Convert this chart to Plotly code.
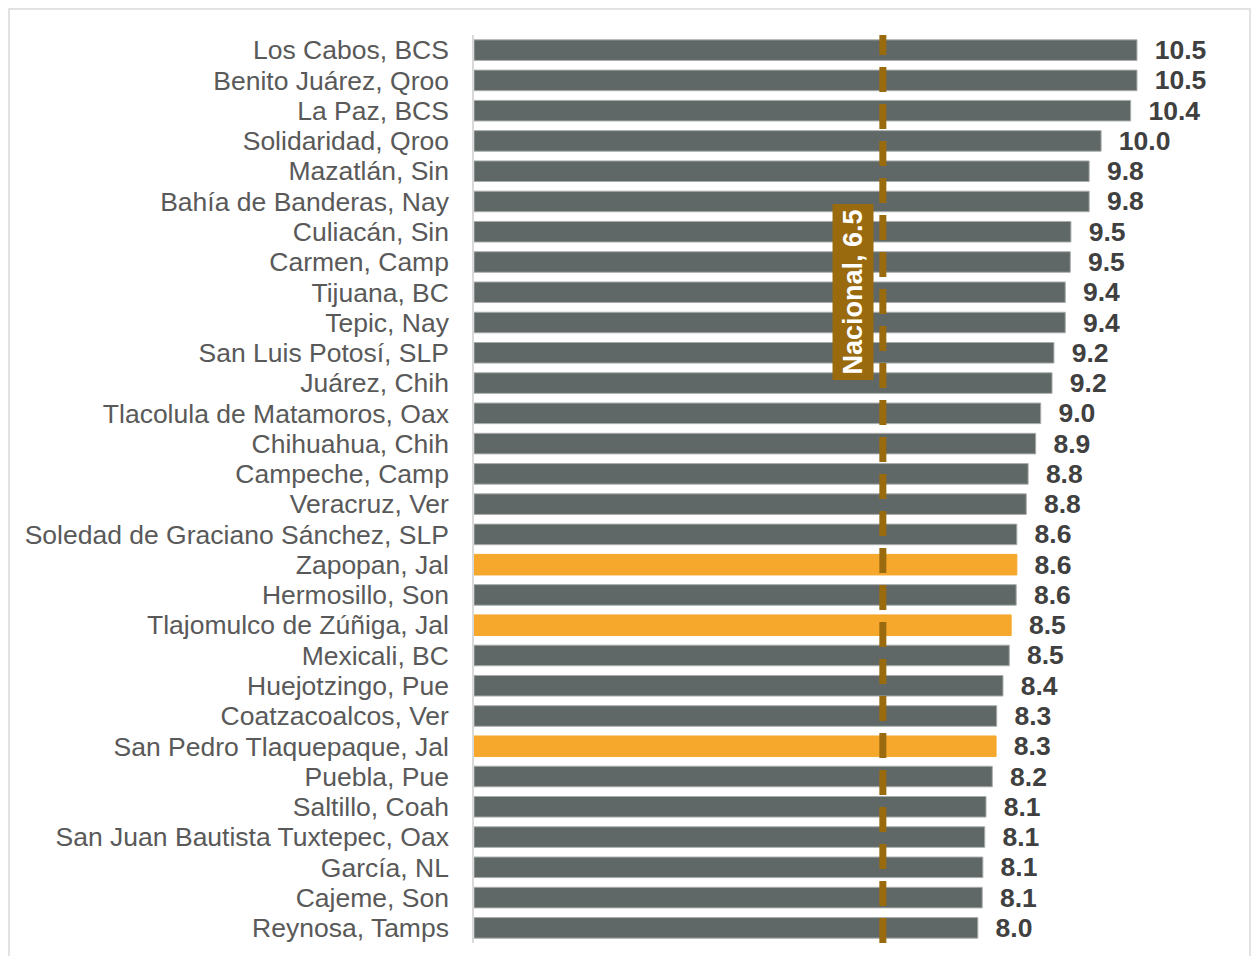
import plotly.graph_objects as go

# municipios, de arriba hacia abajo
municipios = [
    "Los Cabos, BCS", "Benito Juárez, Qroo", "La Paz, BCS", "Solidaridad, Qroo",
    "Mazatlán, Sin", "Bahía de Banderas, Nay", "Culiacán, Sin", "Carmen, Camp",
    "Tijuana, BC", "Tepic, Nay", "San Luis Potosí, SLP", "Juárez, Chih",
    "Tlacolula de Matamoros, Oax", "Chihuahua, Chih", "Campeche, Camp",
    "Veracruz, Ver", "Soledad de Graciano Sánchez, SLP", "Zapopan, Jal",
    "Hermosillo, Son", "Tlajomulco de Zúñiga, Jal", "Mexicali, BC",
    "Huejotzingo, Pue", "Coatzacoalcos, Ver", "San Pedro Tlaquepaque, Jal",
    "Puebla, Pue", "Saltillo, Coah", "San Juan Bautista Tuxtepec, Oax",
    "García, NL", "Cajeme, Son", "Reynosa, Tamps",
]
valores = [
    10.54, 10.54, 10.44, 9.97, 9.78, 9.78, 9.49, 9.48, 9.40, 9.40,
    9.22, 9.19, 9.01, 8.93, 8.81, 8.78, 8.63, 8.63, 8.62, 8.54,
    8.51, 8.41, 8.31, 8.30, 8.24, 8.14, 8.12, 8.09, 8.08, 8.01,
]
jalisco = ["Zapopan, Jal", "Tlajomulco de Zúñiga, Jal", "San Pedro Tlaquepaque, Jal"]
nacional = 6.5

gris = "#5f6866"
naranja = "#f5a82c"
cafe = "#9a6a0f"

colores = [naranja if m in jalisco else gris for m in municipios]
bordes = [naranja if m in jalisco else "#a9aeac" for m in municipios]

# la pagina tiene 8px de margen, asi que todo va recorrido
W, H = 1243, 948
L, R, T, B = 466, 11, 27, 13

fig = go.Figure()
fig.add_trace(go.Bar(
    x=valores,
    y=municipios,
    orientation="h",
    marker=dict(color=colores, line=dict(color=bordes, width=1)),
    width=0.68,
    texttemplate="\u00a0\u00a0%{x:.1f}",
    textposition="outside",
    constraintext="none",
    cliponaxis=False,
    outsidetextfont=dict(family="Liberation Sans, Arial", size=26.5, color="#404040", weight="bold"),
    hoverinfo="skip",
))

# linea nacional punteada
fig.add_shape(
    type="line", xref="x", yref="paper",
    x0=nacional, x1=nacional, y0=0, y1=1,
    line=dict(color=cafe, width=7, dash="25px,12px"),
)

fig.add_annotation(
    x=6.03, y="Tijuana, BC", xref="x", yref="y",
    text="<b>Nacional, 6.5</b>", textangle=-90, showarrow=False,
    font=dict(family="Liberation Sans, Arial", size=27, color="white"),
    bgcolor=cafe, borderpad=5,
)

# marco gris alrededor
pw, ph = W - L - R, H - T - B
fig.add_shape(
    type="rect", xref="paper", yref="paper",
    x0=(1 - L) / pw, x1=(W - 1 - L) / pw,
    y0=-(B + 20) / ph, y1=(H - B - 1) / ph,
    line=dict(color="#d9d9d9", width=1.5), fillcolor="rgba(0,0,0,0)", layer="below",
)

fig.update_layout(
    width=W, height=H,
    margin=dict(l=L, r=R, t=T, b=B),
    plot_bgcolor="white", paper_bgcolor="white",
    showlegend=False,
    font=dict(family="Liberation Sans, Arial", color="#595959"),
)
fig.update_xaxes(range=[0, (1240 - 474) / 62.9], visible=False, showgrid=False, zeroline=False)
fig.update_yaxes(
    autorange="reversed", showgrid=False,
    showline=True, linecolor="#d9d9d9", linewidth=1.5,
    tickmode="linear", tick0=0, dtick=1,
    ticks="", ticklabelstandoff=18,
    tickfont=dict(size=26.5, color="#595959"),
)

fig.write_html("out.html")
